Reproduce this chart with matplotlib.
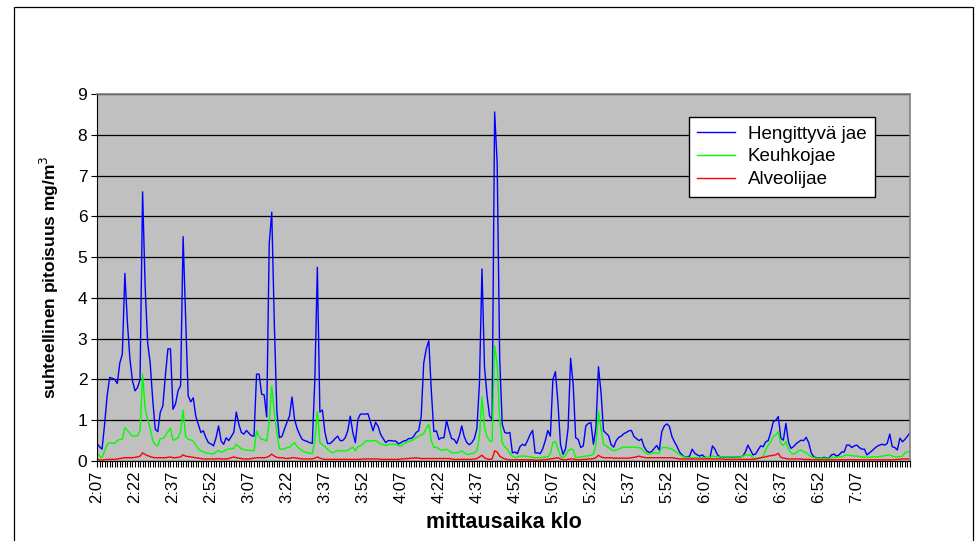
import matplotlib
matplotlib.use("Agg")
import matplotlib.pyplot as plt
from matplotlib.patches import Rectangle
import numpy as np

plt.rcParams['font.family'] = ['Liberation Sans', 'DejaVu Sans']

tick_labels = ["2:07", "2:22", "2:37", "2:52", "3:07", "3:22", "3:37", "3:52",
               "4:07", "4:22", "4:37", "4:52", "5:07", "5:22", "5:37", "5:52",
               "6:07", "6:22", "6:37", "6:52", "7:07"]

hengittyva = [
    0.43, 0.35, 0.29, 0.9, 1.6, 2.05, 2.03, 2.0, 1.9, 2.4,
    2.62, 4.6, 3.4, 2.5, 1.97, 1.72, 1.8, 2.0, 6.6, 4.3,
    2.9, 2.4, 1.5, 0.78, 0.72, 1.2, 1.35, 2.1, 2.75, 2.75,
    1.27, 1.4, 1.72, 1.85, 5.5, 3.5, 1.6, 1.45, 1.55, 1.1,
    0.9, 0.7, 0.74, 0.57, 0.45, 0.42, 0.37, 0.57, 0.86, 0.49,
    0.41, 0.57, 0.5, 0.6, 0.7, 1.2, 0.9, 0.7, 0.66, 0.75,
    0.68, 0.62, 0.61, 2.13, 2.13, 1.64, 1.62, 1.08, 5.33, 6.1,
    3.4, 1.23, 0.57, 0.6, 0.78, 0.95, 1.1, 1.57, 1.02, 0.8,
    0.65, 0.53, 0.5, 0.48, 0.45, 0.43, 1.97, 4.75, 1.2, 1.25,
    0.7, 0.43, 0.43, 0.48, 0.55, 0.61, 0.5, 0.5, 0.57, 0.74,
    1.1, 0.7, 0.45, 1.02, 1.15, 1.15, 1.15, 1.16, 0.95, 0.74,
    0.95, 0.85, 0.65, 0.55, 0.45, 0.5, 0.5, 0.49, 0.49, 0.42,
    0.45, 0.49, 0.5, 0.55, 0.55, 0.6, 0.7, 0.74, 1.1, 2.4,
    2.75, 2.95, 1.72, 0.72, 0.74, 0.53, 0.57, 0.57, 1.0, 0.75,
    0.55, 0.53, 0.43, 0.6, 0.86, 0.6, 0.45, 0.4, 0.45, 0.55,
    0.8, 1.9, 4.71, 2.3, 1.6, 1.1, 1.02, 8.56, 7.3, 2.5,
    0.9, 0.7, 0.68, 0.7, 0.2, 0.22, 0.18, 0.35, 0.41, 0.38,
    0.5, 0.65, 0.75, 0.2, 0.2, 0.18, 0.3, 0.5, 0.75, 0.61,
    2.0, 2.19, 1.43, 0.41, 0.16, 0.3, 0.8, 2.52, 1.89, 0.57,
    0.53, 0.33, 0.37, 0.86, 0.92, 0.94, 0.41, 0.82, 2.31, 1.68,
    0.74, 0.68, 0.62, 0.4, 0.34, 0.5, 0.58, 0.61, 0.67, 0.7,
    0.74, 0.75, 0.6, 0.55, 0.5, 0.54, 0.35, 0.25, 0.21, 0.23,
    0.31, 0.38, 0.27, 0.72, 0.86, 0.91, 0.85, 0.6, 0.47, 0.36,
    0.22, 0.15, 0.1, 0.1, 0.12, 0.29, 0.19, 0.15, 0.12, 0.15,
    0.09, 0.08, 0.08, 0.37, 0.29, 0.15, 0.1, 0.1, 0.09, 0.1,
    0.09, 0.09, 0.1, 0.1, 0.1, 0.12, 0.22, 0.39, 0.27, 0.15,
    0.17, 0.27, 0.37, 0.35, 0.47, 0.5, 0.7, 0.96, 1.0, 1.09,
    0.56, 0.51, 0.92, 0.47, 0.31, 0.35, 0.42, 0.47, 0.51, 0.5,
    0.58, 0.45, 0.2, 0.1, 0.08, 0.08, 0.07, 0.09, 0.08, 0.07,
    0.15, 0.17, 0.12, 0.15, 0.22, 0.22, 0.39, 0.39, 0.33, 0.37,
    0.39, 0.33, 0.29, 0.29, 0.15, 0.2, 0.25, 0.31, 0.36, 0.39,
    0.41, 0.39, 0.43, 0.66, 0.35, 0.33, 0.27, 0.56, 0.47, 0.53,
    0.61, 0.69,
]

keuhko = [
    0.2, 0.12, 0.08, 0.25, 0.4, 0.45, 0.44, 0.43, 0.5, 0.53,
    0.53, 0.82, 0.75, 0.68, 0.61, 0.61, 0.62, 0.74, 2.13, 1.3,
    1.0, 0.8, 0.5, 0.4, 0.37, 0.55, 0.55, 0.62, 0.72, 0.8,
    0.51, 0.53, 0.57, 0.72, 1.25, 0.6, 0.53, 0.52, 0.48, 0.4,
    0.3, 0.25, 0.22, 0.2, 0.19, 0.18, 0.17, 0.22, 0.26, 0.22,
    0.23, 0.28, 0.29, 0.3, 0.31, 0.41, 0.35, 0.3, 0.28, 0.27,
    0.26, 0.26, 0.25, 0.74, 0.6, 0.53, 0.52, 0.49, 0.95, 1.84,
    1.2, 0.7, 0.3, 0.29, 0.29, 0.33, 0.33, 0.4, 0.45, 0.35,
    0.3, 0.25, 0.22, 0.2, 0.19, 0.18, 0.49, 1.21, 0.45, 0.4,
    0.35, 0.29, 0.24, 0.2, 0.23, 0.26, 0.25, 0.25, 0.25, 0.26,
    0.3, 0.34, 0.25, 0.35, 0.37, 0.42, 0.48, 0.5, 0.48, 0.5,
    0.5, 0.46, 0.42, 0.4, 0.38, 0.4, 0.41, 0.41, 0.41, 0.38,
    0.37, 0.42, 0.45, 0.48, 0.49, 0.53, 0.57, 0.61, 0.64, 0.67,
    0.8, 0.9, 0.5, 0.33, 0.34, 0.3, 0.26, 0.27, 0.29, 0.25,
    0.2, 0.2, 0.2, 0.22, 0.25, 0.2, 0.16, 0.17, 0.18, 0.2,
    0.25, 0.6, 1.57, 0.82, 0.6, 0.49, 0.48, 2.83, 2.38, 1.0,
    0.45, 0.34, 0.3, 0.18, 0.12, 0.08, 0.1, 0.12, 0.12, 0.12,
    0.11, 0.1, 0.09, 0.08, 0.08, 0.08, 0.09, 0.1, 0.1, 0.18,
    0.45, 0.48, 0.3, 0.12, 0.08, 0.14, 0.25, 0.29, 0.28, 0.08,
    0.09, 0.1, 0.11, 0.12, 0.13, 0.14, 0.17, 0.4, 1.21, 0.8,
    0.41, 0.37, 0.33, 0.28, 0.25, 0.27, 0.29, 0.32, 0.34, 0.34,
    0.34, 0.34, 0.34, 0.33, 0.33, 0.3, 0.23, 0.18, 0.17, 0.19,
    0.2, 0.2, 0.19, 0.33, 0.33, 0.33, 0.31, 0.29, 0.25, 0.2,
    0.16, 0.12, 0.1, 0.09, 0.08, 0.08, 0.08, 0.08, 0.08, 0.08,
    0.08, 0.09, 0.09, 0.12, 0.11, 0.1, 0.1, 0.1, 0.1, 0.1,
    0.1, 0.1, 0.1, 0.1, 0.1, 0.12, 0.15, 0.15, 0.15, 0.07,
    0.07, 0.07, 0.08, 0.1, 0.27, 0.39, 0.47, 0.6, 0.64, 0.72,
    0.43, 0.38, 0.47, 0.3, 0.2, 0.17, 0.2, 0.25, 0.27, 0.23,
    0.2, 0.15, 0.1, 0.08, 0.07, 0.07, 0.07, 0.07, 0.07, 0.07,
    0.08, 0.09, 0.09, 0.1, 0.1, 0.13, 0.15, 0.14, 0.13, 0.12,
    0.12, 0.11, 0.1, 0.09, 0.09, 0.09, 0.1, 0.1, 0.1, 0.11,
    0.12, 0.13, 0.14, 0.15, 0.12, 0.1, 0.1, 0.11, 0.12, 0.2,
    0.23, 0.23,
]

alveoli = [
    0.04, 0.03, 0.02, 0.03, 0.04, 0.04, 0.04, 0.04, 0.05, 0.06,
    0.07, 0.08, 0.08, 0.08, 0.08, 0.09, 0.1, 0.12, 0.2, 0.16,
    0.13, 0.11, 0.09, 0.08, 0.08, 0.08, 0.08, 0.08, 0.09, 0.1,
    0.08, 0.08, 0.09, 0.1, 0.15, 0.12, 0.11, 0.1, 0.09, 0.08,
    0.07, 0.06, 0.05, 0.05, 0.05, 0.05, 0.05, 0.05, 0.06, 0.05,
    0.05, 0.05, 0.06, 0.08, 0.1, 0.08, 0.07, 0.06, 0.05, 0.05,
    0.05, 0.06, 0.07, 0.08, 0.08, 0.08, 0.08, 0.09, 0.12, 0.17,
    0.12, 0.09, 0.08, 0.08, 0.07, 0.06, 0.07, 0.08, 0.08, 0.07,
    0.06, 0.05, 0.05, 0.05, 0.05, 0.05, 0.07, 0.1, 0.07, 0.05,
    0.04, 0.04, 0.04, 0.04, 0.04, 0.04, 0.04, 0.04, 0.04, 0.04,
    0.04, 0.04, 0.04, 0.04, 0.04, 0.05, 0.05, 0.05, 0.05, 0.05,
    0.05, 0.05, 0.04, 0.04, 0.04, 0.04, 0.04, 0.04, 0.04, 0.04,
    0.05, 0.05, 0.06, 0.06, 0.07, 0.07, 0.08, 0.07, 0.06, 0.06,
    0.06, 0.06, 0.06, 0.06, 0.06, 0.06, 0.06, 0.06, 0.06, 0.06,
    0.05, 0.04, 0.04, 0.04, 0.04, 0.04, 0.04, 0.04, 0.04, 0.05,
    0.06, 0.1, 0.14, 0.08, 0.05, 0.04, 0.05, 0.25, 0.22, 0.12,
    0.08, 0.05, 0.04, 0.03, 0.03, 0.03, 0.03, 0.03, 0.03, 0.03,
    0.03, 0.03, 0.03, 0.02, 0.02, 0.02, 0.03, 0.03, 0.04, 0.05,
    0.06, 0.07, 0.08, 0.05, 0.03, 0.03, 0.04, 0.05, 0.05, 0.03,
    0.03, 0.03, 0.04, 0.04, 0.05, 0.05, 0.06, 0.08, 0.14, 0.1,
    0.08, 0.08, 0.08, 0.08, 0.07, 0.07, 0.07, 0.07, 0.07, 0.07,
    0.07, 0.08, 0.09, 0.1, 0.12, 0.1, 0.09, 0.08, 0.08, 0.08,
    0.08, 0.08, 0.08, 0.08, 0.08, 0.08, 0.08, 0.08, 0.07, 0.06,
    0.05, 0.05, 0.05, 0.05, 0.05, 0.05, 0.05, 0.05, 0.05, 0.05,
    0.05, 0.05, 0.05, 0.05, 0.05, 0.05, 0.05, 0.05, 0.04, 0.04,
    0.04, 0.04, 0.04, 0.04, 0.04, 0.04, 0.04, 0.04, 0.04, 0.04,
    0.05, 0.06, 0.08, 0.09, 0.1, 0.12, 0.13, 0.14, 0.15, 0.19,
    0.09, 0.07, 0.06, 0.05, 0.05, 0.05, 0.05, 0.05, 0.05, 0.04,
    0.04, 0.04, 0.03, 0.03, 0.03, 0.03, 0.03, 0.03, 0.03, 0.03,
    0.03, 0.03, 0.03, 0.03, 0.03, 0.03, 0.03, 0.03, 0.03, 0.03,
    0.03, 0.03, 0.03, 0.03, 0.03, 0.03, 0.03, 0.03, 0.03, 0.03,
    0.03, 0.03, 0.03, 0.03, 0.03, 0.03, 0.04, 0.04, 0.05, 0.05,
    0.05, 0.05,
]

series = [("Hengittyvä jae", hengittyva, "#0000FF"),
          ("Keuhkojae", keuhko, "#00FF00"),
          ("Alveolijae", alveoli, "#FF0000")]

W, H = 976, 541
fig = plt.figure(figsize=(W / 100, H / 100), dpi=100)
fig.patch.set_facecolor("white")

# outer chart border
fig.patches.append(Rectangle((14 / W, -0.05), (973 - 14) / W, 1.05 - 7 / H,
                             transform=fig.transFigure, fill=False,
                             edgecolor="black", linewidth=0.9))

ax = fig.add_axes([97 / W, 1 - 461 / H, (910 - 97) / W, (461 - 94) / H])
ax.set_facecolor("#C0C0C0")

for name, vals, col in series:
    x = np.arange(len(vals))
    ax.plot(x, vals, color=col, linewidth=1.0, label=name)

n = len(hengittyva)
ax.set_xlim(0, n - 1)
ax.set_ylim(0, 9)
ax.set_yticks(range(0, 10))
ax.yaxis.grid(True, color="black", linewidth=0.9)
ax.set_axisbelow(True)

ax.set_xticks(np.arange(0, 15 * len(tick_labels), 15))
ax.set_xticklabels(tick_labels, rotation=90, fontsize=12)
ax.set_xticks(np.arange(0, n), minor=True)
ax.tick_params(axis="x", which="both", direction="out", length=4, width=0.8,
               pad=3)
ax.tick_params(axis="y", direction="out", length=4, width=0.8, labelsize=12.5,
               pad=3)

for side in ["top", "right"]:
    ax.spines[side].set_color("#808080")
    ax.spines[side].set_linewidth(1.2)
ax.spines["left"].set_color("black")
ax.spines["bottom"].set_color("black")

ax.set_xlabel("mittausaika klo", fontsize=15.5, fontweight="bold", labelpad=6)
ax.set_ylabel("suhteellinen pitoisuus mg/m$^3$", fontsize=12.5,
              fontweight="bold", labelpad=12)

leg = ax.legend(loc="upper left", bbox_to_anchor=(0.728, 0.937), fontsize=13.5,
                frameon=True, fancybox=False, edgecolor="black",
                framealpha=1.0, handlelength=2.0, borderpad=0.45,
                labelspacing=0.3, handletextpad=0.7, borderaxespad=0.0)
leg.get_frame().set_linewidth(1.0)

fig.savefig("out.png", dpi=100)
